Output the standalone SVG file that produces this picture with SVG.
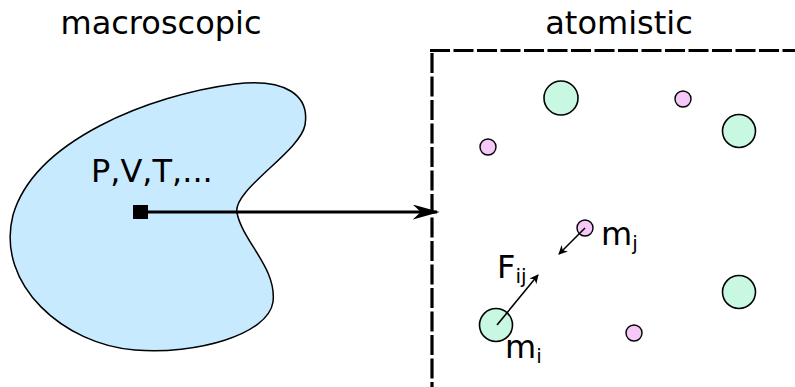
<svg xmlns="http://www.w3.org/2000/svg" width="795" height="387" viewBox="0 0 795 387">
<defs>
<style>
text{font-family:"DejaVu Sans",sans-serif;fill:#000}
.t{font-size:32px}
.s{font-size:20px}
.big{fill:#c8f7e2;stroke:#000;stroke-width:1.6}
.small{fill:#f5c8f7;stroke:#000;stroke-width:1.4}
.f{stroke:#000;stroke-width:1.6;fill:none}
.d{stroke:#000;stroke-width:3.2;fill:none;stroke-dasharray:20,3.5}
</style>
<marker id="ah" viewBox="0 0 10 10" refX="9" refY="5" markerWidth="9" markerHeight="9" markerUnits="userSpaceOnUse" orient="auto">
<path d="M0,0 L10,5 L0,10 L3,5 Z" fill="#000"/>
</marker>
<marker id="bigah" viewBox="0 0 10 10" refX="9" refY="5" markerWidth="27" markerHeight="15" markerUnits="userSpaceOnUse" orient="auto" preserveAspectRatio="none">
<path d="M0,0 L10,5 L0,10 L3,5 Z" fill="#000"/>
</marker>
</defs>
<text class="t" x="161" y="34" text-anchor="middle">macroscopic</text>
<text class="t" x="619" y="34" text-anchor="middle">atomistic</text>
<g id="continuum">
<path d="M237,213 C232,190 300,152 305,125 C310,95 285,78 235,84 C150,95 35,140 13,215 C-5,285 65,345 135,350 C195,355 268,335 273,302 C277,268 243,242 237,213 Z" fill="#c8eafe" stroke="#000" stroke-width="1.5"/>
<text class="t" x="91" y="182">P,V,T,...</text>
</g>
<g id="box">
<line class="d" x1="430" y1="50.5" x2="795" y2="50.5"/>
<line class="d" x1="432" y1="53" x2="432" y2="387"/>
</g>
<g id="atoms">
<circle class="big" cx="561" cy="98" r="17"/>
<circle class="big" cx="739" cy="131" r="16.5"/>
<circle class="big" cx="739" cy="292" r="16.5"/>
<circle class="big" cx="496" cy="325" r="16.5"/>
<circle class="small" cx="488" cy="147" r="8"/>
<circle class="small" cx="683" cy="99" r="8"/>
<circle class="small" cx="585" cy="228" r="8"/>
<circle class="small" cx="634" cy="333" r="8"/>
</g>
<g id="labels">
<text class="t" x="601" y="245">m<tspan class="s" dy="5">j</tspan></text>
<text class="t" x="497" y="278">F<tspan class="s" dy="5">ij</tspan></text>
<text class="t" x="505" y="358">m<tspan class="s" dy="5">i</tspan></text>
</g>
<g id="connectors">
<rect x="133" y="205" width="15" height="14" fill="#000"/>
<line x1="145" y1="212" x2="437" y2="212" stroke="#000" stroke-width="3" marker-end="url(#bigah)"/>
<line class="f" x1="585" y1="228" x2="559" y2="254" marker-end="url(#ah)"/>
<line class="f" x1="497" y1="325" x2="538" y2="275" marker-end="url(#ah)"/>
</g>
</svg>
